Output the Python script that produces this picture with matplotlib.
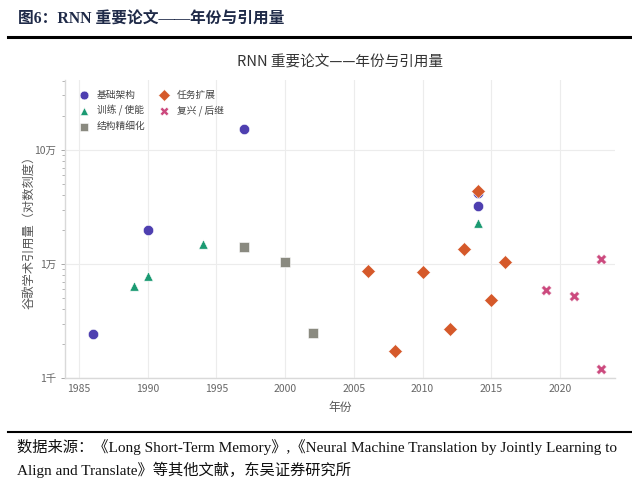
import matplotlib
matplotlib.use("Agg")
import matplotlib.pyplot as plt
from matplotlib.ticker import FixedLocator, LogLocator, NullFormatter
from matplotlib.lines import Line2D

plt.rcParams['font.family'] = ['Noto Sans CJK SC', 'DejaVu Sans']

# ---- data ----
categories = ["基础架构", "训练 / 使能", "结构精细化", "任务扩展", "复兴 / 后继"]
years_arch = [1986, 1990, 1997, 2014, 2014]
cites_arch = [2450, 19900, 151000, 41500, 32200]
years_train = [1989, 1990, 1994, 2014]
cites_train = [6400, 7900, 15100, 22900]
years_refine = [1997, 2000, 2002]
cites_refine = [14100, 10500, 2490]
years_task = [2006, 2008, 2010, 2012, 2013, 2014, 2015, 2016]
cites_task = [8650, 1710, 8550, 2680, 13400, 43900, 4800, 10500]
years_revival = [2019, 2021, 2023, 2023]
cites_revival = [5950, 5240, 10950, 1200]
xticks = [1985, 1990, 1995, 2000, 2005, 2010, 2015, 2020]
yticks = [1000, 10000, 100000]
ytick_labels = ["1千", "1万", "10万"]

colors = ["#4e3fb0", "#1b9a72", "#8a8a80", "#d5592a", "#cc4a7e"]
markers = ["o", "^", "s", "D", "X"]
sizes = [55, 45, 55, 50, 55]
series = [(years_arch, cites_arch), (years_train, cites_train),
          (years_refine, cites_refine), (years_task, cites_task),
          (years_revival, cites_revival)]

fig = plt.figure(figsize=(6.32, 4.98), dpi=100)
ax = fig.add_axes([65/632, 1-378/498, (615-65)/632, (378-80)/498])

for (xs, ys), lab, c, m, s in zip(series, categories, colors, markers, sizes):
    ax.scatter(xs, ys, s=s, c=c, marker=m, label=lab, edgecolors='white',
               linewidths=0.4, zorder=3)

ax.set_yscale('log')
ax.set_xlim(1984, 2024)
ax.set_ylim(1000, 4.1e5)
ax.set_xticks(xticks)
ax.yaxis.set_major_locator(FixedLocator(yticks))
ax.set_yticklabels(ytick_labels)
ax.yaxis.set_minor_locator(LogLocator(base=10, subs=range(2, 10)))
ax.yaxis.set_minor_formatter(NullFormatter())

ax.grid(True, which='major', color='#ececec', linewidth=0.8, zorder=0)
ax.set_axisbelow(True)
for sp in ['top', 'right']:
    ax.spines[sp].set_visible(False)
for sp in ['left', 'bottom']:
    ax.spines[sp].set_color('#d9d9d9')
    ax.spines[sp].set_linewidth(1.0)
ax.tick_params(axis='both', which='major', labelsize=7.5, colors='#999999',
               labelcolor='#666666', length=3, width=0.6)
ax.tick_params(axis='y', which='minor', colors='#999999', length=2, width=0.5)
ax.tick_params(axis='x', which='major', length=0, pad=4)

ax.set_title("RNN 重要论文——年份与引用量", fontsize=10.5, color='#333333', pad=10)
ax.set_xlabel("年份", fontsize=8.5, color='#555555', labelpad=5)
ax.set_ylabel("谷歌学术引用量（对数刻度）", fontsize=8.8, color='#555555', labelpad=-1)

leg = ax.legend(loc='upper left', ncol=2, frameon=False, fontsize=7,
                handletextpad=0.3, columnspacing=0.9, labelspacing=0.55,
                borderaxespad=0.6, markerscale=0.85)
for t in leg.get_texts():
    t.set_color('#444444')

# header & footer
fig.text(18/632, 1-20/498, "图6：RNN 重要论文——年份与引用量", fontsize=11.3,
         fontweight='bold', color='#1f2a48', va='center', ha='left',
         family=['Liberation Serif', 'Noto Sans CJK SC'])
fig.add_artist(Line2D([8/632, 1.0], [1-37/498, 1-37/498], color='black',
                      linewidth=2.2, transform=fig.transFigure))
fig.add_artist(Line2D([8/632, 1.0], [1-432/498, 1-432/498], color='black',
                      linewidth=1.5, transform=fig.transFigure))
foot_family = ['Liberation Serif', 'Noto Sans CJK SC']
fig.text(17/632, 1-447/498,
         "数据来源：《Long Short-Term Memory》,《Neural Machine Translation by Jointly Learning to",
         fontsize=11, color='#111111', va='center', ha='left', family=foot_family)
fig.text(17/632, 1-470/498,
         "Align and Translate》等其他文献，东吴证券研究所",
         fontsize=11, color='#111111', va='center', ha='left', family=foot_family)

fig.savefig("out.png", dpi=100)
